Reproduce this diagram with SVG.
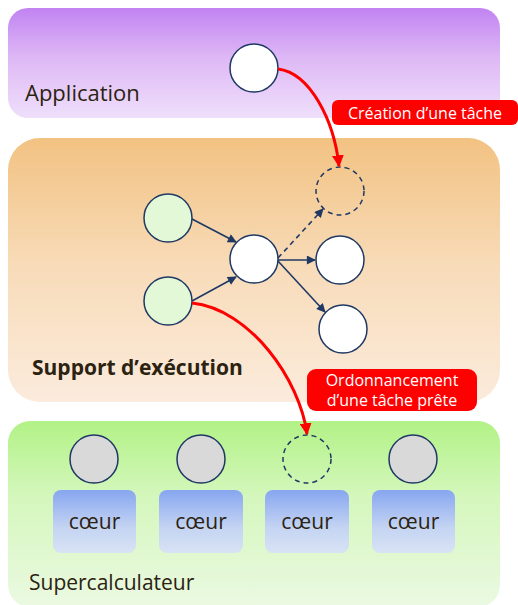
<svg xmlns="http://www.w3.org/2000/svg" width="518" height="605" viewBox="0 0 518 605">
<style>
.t{font-family:"Open Sans","Liberation Sans",sans-serif;fill:#2b2211}
.lbl{font-family:"Open Sans","Liberation Sans",sans-serif;fill:#fff;font-size:16px;text-anchor:middle}
.node{stroke:#1f3864;stroke-width:1.5}
.w{fill:#fff}
.g{fill:#e2f8d6}
.gr{fill:#d9d9d9}
.d{fill:none;stroke-dasharray:5 4}
.e{stroke:#1f3864;stroke-width:1.6;fill:none;marker-end:url(#ah)}
.r{stroke:#ff0000;stroke-width:3;fill:none;marker-end:url(#rh)}
.core{fill:url(#gc)}
.ct{font-family:"Open Sans","Liberation Sans",sans-serif;fill:#2b2211;font-size:21px;text-anchor:middle}
</style>
<defs>
<linearGradient id="gp" x1="0" y1="0" x2="0" y2="1"><stop offset="0" stop-color="#c183f2"/><stop offset="0.45" stop-color="#deb8f5"/><stop offset="1" stop-color="#efdffb"/></linearGradient>
<linearGradient id="go" x1="0" y1="0" x2="0" y2="1"><stop offset="0" stop-color="#f2c282"/><stop offset="0.5" stop-color="#f8dcba"/><stop offset="1" stop-color="#fbebdc"/></linearGradient>
<linearGradient id="gg" x1="0" y1="0" x2="0" y2="1"><stop offset="0" stop-color="#b2f286"/><stop offset="0.4" stop-color="#d4f7bc"/><stop offset="1" stop-color="#ebf9e2"/></linearGradient>
<linearGradient id="gc" x1="0" y1="0" x2="0" y2="1"><stop offset="0" stop-color="#87a6f0"/><stop offset="0.6" stop-color="#c4d4f2"/><stop offset="1" stop-color="#d8e3f4"/></linearGradient>
<marker id="ah" viewBox="0 0 10 10" refX="9" refY="5" markerWidth="10" markerHeight="9" orient="auto" markerUnits="userSpaceOnUse"><path d="M0,0 L10,5 L0,10 z" fill="#1f3864"/></marker>
<marker id="rh" viewBox="0 0 10 10" refX="9" refY="5" markerWidth="4" markerHeight="4" orient="auto"><path d="M0,0 L10,5 L0,10 z" fill="#ff0000"/></marker>
</defs>

<g id="application">
<rect x="8" y="8" width="492" height="110" rx="20" fill="url(#gp)"/>
<text class="t" x="25" y="101" font-size="22">Application</text>
</g>
<g id="support">
<rect x="8" y="138" width="492" height="264" rx="32" fill="url(#go)"/>
<text class="t" x="32" y="375" font-size="21" font-weight="bold">Support d’exécution</text>
</g>
<g id="supercalculateur">
<rect x="8" y="421" width="492" height="186" rx="22" fill="url(#gg)"/>
<text class="t" x="29" y="590" font-size="21">Supercalculateur</text>
</g>

<g id="app-task"><circle class="node w" cx="254" cy="68" r="24"/></g>
<g id="green1"><circle class="node g" cx="168" cy="218" r="24"/></g>
<g id="green2"><circle class="node g" cx="168" cy="301" r="24"/></g>
<g id="mid"><circle class="node w" cx="254" cy="259" r="24"/></g>
<g id="new-task"><circle class="node d" cx="340" cy="191" r="24"/></g>
<g id="right1"><circle class="node w" cx="340" cy="260" r="24"/></g>
<g id="right2"><circle class="node w" cx="343" cy="329" r="24"/></g>

<g id="core1"><circle class="node gr" cx="94" cy="459" r="24"/><rect class="core" x="53" y="490" width="83" height="63" rx="8"/><text class="ct" x="94.5" y="529">cœur</text></g>
<g id="core2"><circle class="node gr" cx="201" cy="459" r="24"/><rect class="core" x="159" y="490" width="84" height="63" rx="8"/><text class="ct" x="201" y="529">cœur</text></g>
<g id="core3"><circle class="node d" cx="307" cy="459" r="24"/><rect class="core" x="265" y="490" width="84" height="63" rx="8"/><text class="ct" x="307" y="529">cœur</text></g>
<g id="core4"><circle class="node gr" cx="413" cy="459" r="24"/><rect class="core" x="372" y="490" width="83" height="63" rx="8"/><text class="ct" x="413.5" y="529">cœur</text></g>

<g id="connectors">
<path class="e" d="M192,219 L236,242"/>
<path class="e" d="M192,301 L236,277"/>
<path class="e" d="M278,258 L323,209" stroke-dasharray="5 4"/>
<path class="e" d="M278,260 L315,260"/>
<path class="e" d="M278,261 L325,312"/>
<path class="r" d="M278,69 C310,73 334,120 339,166"/>
<path class="r" d="M192,303 C250,309 300,380 307,434"/>
</g>

<g id="label-creation">
<rect x="332" y="100" width="186" height="25" rx="6" fill="#ff0000"/>
<text class="lbl" x="425" y="119" font-size="17">Création d’une tâche</text>
</g>
<g id="label-ordo">
<rect x="307" y="369" width="170" height="42" rx="9" fill="#ff0000"/>
<text class="lbl" x="392" y="386">Ordonnancement</text>
<text class="lbl" x="392" y="406">d’une tâche prête</text>
</g>
</svg>
